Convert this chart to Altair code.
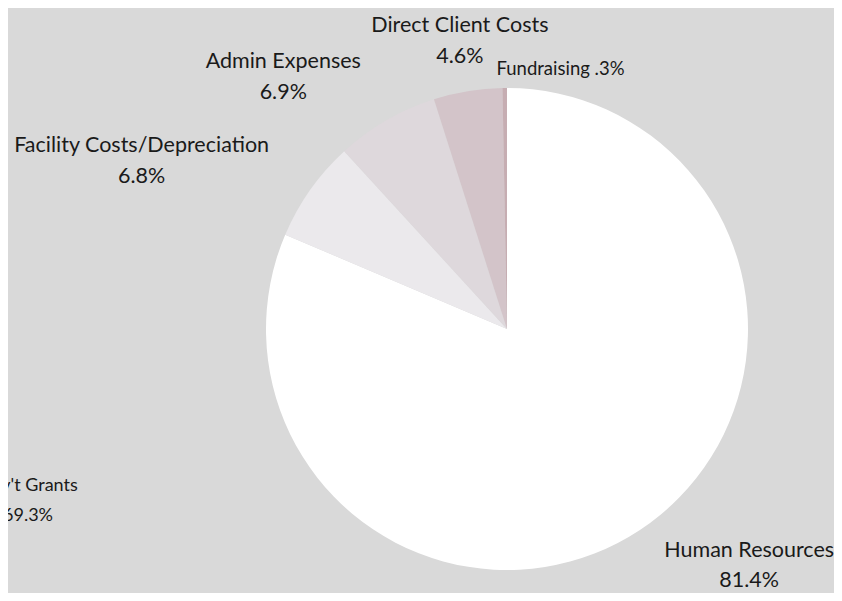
import altair as alt
import pandas as pd

# ---- data ----
categories = ["Human Resources", "Facility Costs/Depreciation", "Admin Expenses",
              "Direct Client Costs", "Fundraising"]
values = [81.4, 6.8, 6.9, 4.6, 0.3]
pct_labels = ["81.4%", "6.8%", "6.9%", "4.6%", ".3%"]
stray_label = "Gov't Grants\n69.3%"

# ---- styles ----
colors = ["#ffffff", "#ebe9ec", "#ded8dc", "#d3c4c9", "#c6adb2"]
BG = "#d9d9d9"
FONT = "Lato"
PIE_R = 241
LABEL_R = 265
# label nudges (Excel-like best-fit placement)
LABEL_STYLE = {
    "Human Resources": dict(dx=96, dy=7, size=21.5, lh=30),
    "Facility Costs/Depreciation": dict(dx=-149, dy=-24, size=21.5, lh=31),
    "Admin Expenses": dict(dx=-91, dy=-31.5, size=21.5, lh=31),
    "Direct Client Costs": dict(dx=-4, dy=-35.5, size=21.5, lh=31),
    "Fundraising": dict(dx=56, dy=11, size=18.5, lh=31),
}

labels = [c + " " + p if c == "Fundraising" else c + "\n" + p
          for c, p in zip(categories, pct_labels)]
df = pd.DataFrame({"category": categories, "value": values, "label": labels,
                   "ord": list(range(len(categories)))})

W, H = 654, 528
PAD = {"left": 172, "top": 57, "right": 0, "bottom": 0}

base = alt.Chart(df).transform_window(
    cum="sum(value)", sort=[alt.SortField("ord")]
).transform_calculate(mid="datum.cum - datum.value / 2")

theta_scale = alt.Scale(domain=[0, 100])

arcs = alt.Chart(df).mark_arc(outerRadius=PIE_R, stroke=None).encode(
    theta=alt.Theta("value:Q", stack=True, scale=theta_scale),
    color=alt.Color("category:N", scale=alt.Scale(domain=categories, range=colors), legend=None),
    order=alt.Order("ord:Q"),
)

layers = [arcs]
for c in categories:
    st = LABEL_STYLE[c]
    layers.append(
        base.transform_filter(alt.datum.category == c).mark_text(
            radius=LABEL_R, dx=st["dx"], dy=st["dy"], fontSize=st["size"],
            font=FONT, align="center", baseline="alphabetic", lineBreak="\n",
            lineHeight=st["lh"], color="#1a1a1a",
        ).encode(
            theta=alt.Theta("mid:Q", stack=None, scale=theta_scale),
            text="label:N",
        )
    )

stray = alt.Chart(pd.DataFrame({"t": [stray_label]})).mark_text(
    fontSize=18, font=FONT, align="center", baseline="alphabetic", lineBreak="\n",
    lineHeight=30, color="#1a1a1a",
).encode(x=alt.value(20 - PAD["left"]), y=alt.value(483 - PAD["top"]), text="t:N")
layers.append(stray)

chart = alt.layer(*layers).properties(
    width=W, height=H, padding=PAD, background=BG,
    autosize=alt.AutoSizeParams(type="none"),
).configure_view(stroke=None)

chart.save("out.html", embed_options={"renderer": "svg", "actions": False})
